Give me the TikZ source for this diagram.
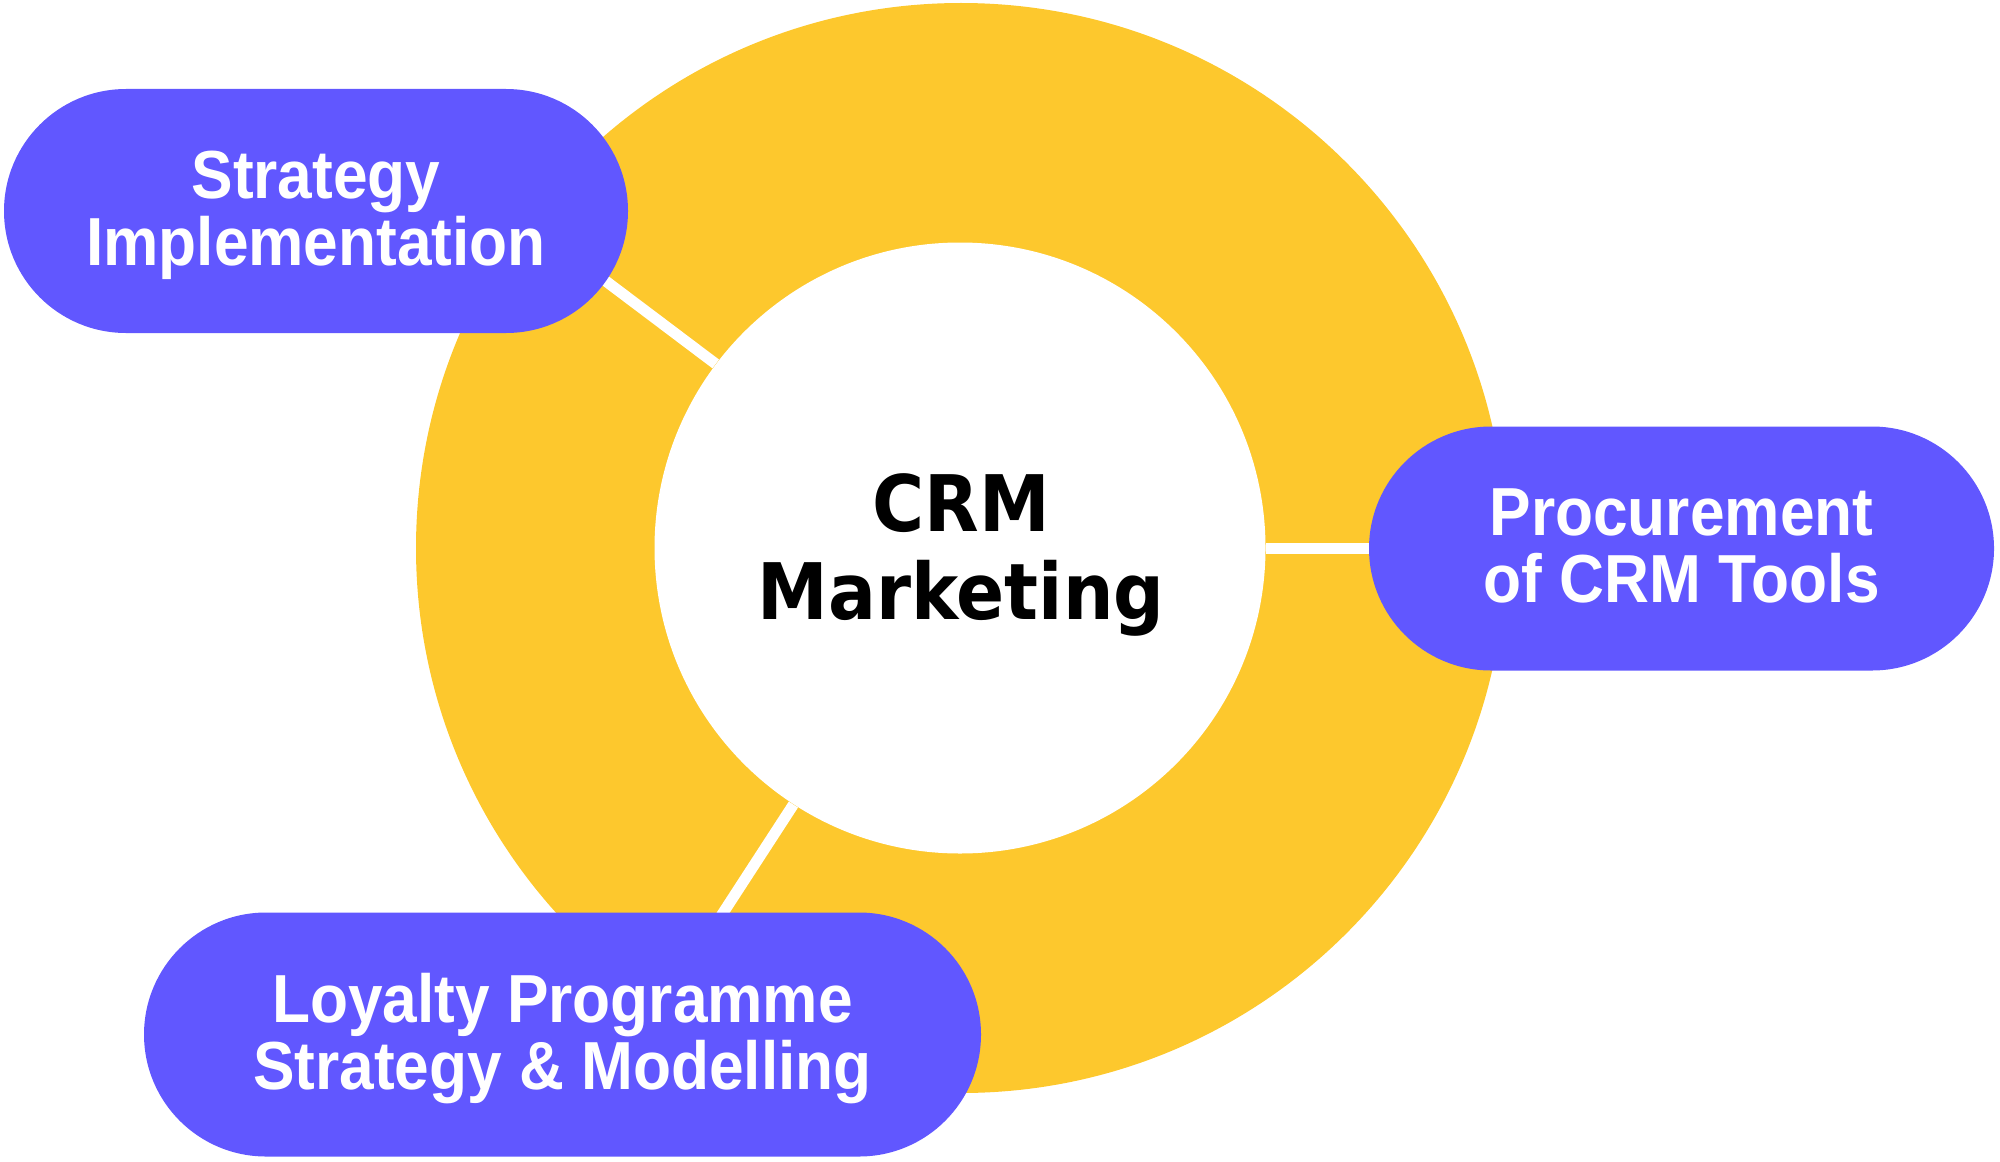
\documentclass[tikz,border=0pt]{standalone}
\usepackage{fontspec}
\usetikzlibrary{calc}
\newfontfamily\pillfont[FakeStretch=0.915]{Liberation Sans Bold}
\newfontfamily\centerfont[FakeStretch=0.91]{DejaVu Sans Bold}
\definecolor{ylw}{HTML}{FDC82D}
\definecolor{prp}{HTML}{6157FF}
\begin{document}
\begin{tikzpicture}[x=0.5pt,y=-0.5pt,
  pill/.style={fill=prp, text=white, rounded corners=61pt, minimum height=122pt,
    inner sep=0pt, align=center, text depth=3pt, font=\pillfont\fontsize{34}{33.5}\selectfont},
  conn/.style={draw=white, line width=5.5pt},
  disc/.style={circle, inner sep=0pt}]
\useasboundingbox (0,0) rectangle (2000,1161);
\node[disc, fill=ylw, minimum size=545pt] (outer) at (961,548) {};
\node[disc, fill=white, minimum size=305.5pt] (inner) at (960,548) {};
\coordinate (e1) at ($(inner.center)!2!(inner.143.6)$);
\coordinate (e2) at ($(inner.center)!1.5!(inner.east)$);
\coordinate (e3) at ($(inner.center)!1.7!(inner.237.8)$);
\draw[conn] (inner.143.6) -- (e1);
\draw[conn] (inner.east) -- (e2);
\draw[conn] (inner.237.8) -- (e3);
\node[pill, minimum width=312pt] (p1) at (316,211) {Strategy\\Implementation};
\node[pill, minimum width=312.5pt] (p2) at (1681.5,548.5) {Procurement\\of CRM Tools};
\node[pill, minimum width=418.5pt] (p3) at (562.5,1034.5) {Loyalty Programme\\Strategy \& Modelling};
\node[align=center, inner sep=0pt, font=\centerfont\fontsize{39}{44}\selectfont] (title) at (961,555) {CRM\\Marketing};
\end{tikzpicture}
\end{document}
